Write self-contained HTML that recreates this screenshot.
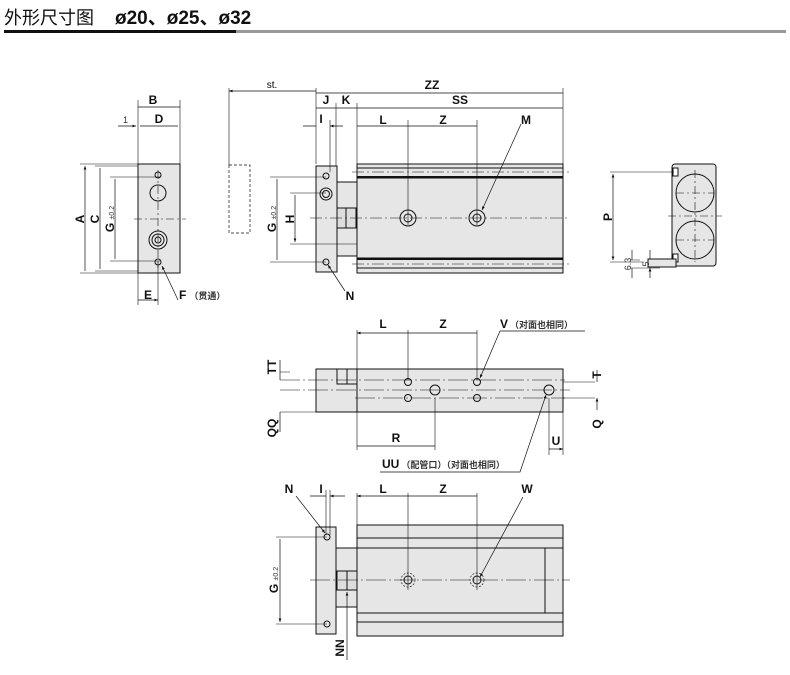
<!DOCTYPE html><html><head><meta charset="utf-8"><style>
body{margin:0;background:#fff}
svg text{font-family:"Liberation Sans","Noto Sans CJK SC",sans-serif}
.b{font-weight:bold;font-size:12px;fill:#111}
.s{font-size:9px;fill:#333}
</style></head><body>
<svg width="790" height="670" viewBox="0 0 790 670" xmlns="http://www.w3.org/2000/svg">
<defs><marker id="a" viewBox="0 0 10 10" refX="10" refY="5" markerWidth="6" markerHeight="5" orient="auto-start-reverse"><path d="M0,1L10,5L0,9z" fill="#111"/></marker></defs>
<text x="4" y="24" style="font-size:18px" fill="#111">外形尺寸图<tspan x="115" style="font-weight:bold;font-size:19px">ø20、ø25、ø32</tspan></text>
<rect x="4" y="30" width="232" height="3" fill="#111"/><rect x="236" y="30" width="550" height="3" fill="#999"/>
<g stroke="#111" stroke-width="1" fill="none">
<!-- end view -->
<rect x="138" y="164" width="42" height="109" fill="#e6e6e6"/>
<circle cx="158" cy="175" r="3"/><circle cx="158" cy="193" r="8"/><circle cx="158" cy="240" r="9"/><circle cx="158" cy="240" r="6"/><circle cx="158" cy="240" r="3"/><circle cx="158" cy="262" r="3"/>
<path d="M134 219H186M158 170V268" stroke-dasharray="8 3 2 3" stroke-width=".6"/>
<path d="M80 164H138M95 166H138M110 177H160M110 261H160M80 273H138M95 271H138M138 100V164M180 100V164M138 273V305M158 262V305" stroke-width=".6"/>
<path d="M85 166V271M100 168V269M115 179V259M138 107H180M140 126H178M138 300H158" marker-start="url(#a)" marker-end="url(#a)" stroke-width=".7"/>
<path d="M118 126H136" marker-end="url(#a)" stroke-width=".7"/>
<path d="M178 300L162 266" marker-end="url(#a)" stroke-width=".7"/>
<!-- dashed -->
<path d="M229 165H250V233H229Z" stroke-dasharray="3 2" stroke-width=".7"/>
<!-- side view -->
<rect x="336" y="182" width="21" height="74" fill="#e6e6e6"/>
<rect x="337" y="208" width="19" height="20" fill="#ddd"/><path d="M346 208V228"/>
<rect x="357" y="164" width="206" height="109" fill="#e6e6e6"/>
<path d="M357 168H563M357 178H563M357 258H563M357 268H563" />
<path d="M357 177H563M357 259H563" stroke-width="2"/>
<rect x="316" y="166" width="21" height="106" fill="#e6e6e6"/>
<circle cx="326" cy="176" r="3"/><circle cx="326" cy="194" r="6"/><circle cx="326" cy="194" r="3.5"/><circle cx="326" cy="262" r="3"/>
<circle cx="408" cy="218" r="8" fill="#e6e6e6"/><circle cx="408" cy="218" r="4"/><circle cx="477" cy="218" r="8" fill="#e6e6e6"/><circle cx="477" cy="218" r="4"/>
<path d="M310 218H570M352 172H570M352 264H570" stroke-dasharray="12 3 2 3" stroke-width=".6"/>
<path d="M229 88V165M316 88V164M336 103V166M357 103V164M563 88V164M408 120V225M477 120V225M330 120V172M270 177H326M270 262H326M290 193H326M290 244H357" stroke-width=".6"/>
<path d="M229 91H316M316 93H563M357 108H563M316 108H336M336 108H357M357 126H408M408 126H477M277 179V260M295 195V242" marker-start="url(#a)" marker-end="url(#a)" stroke-width=".7"/>
<path d="M303 126H316M343 126H330" marker-end="url(#a)" stroke-width=".7"/>
<path d="M521 124L482 210" marker-end="url(#a)" stroke-width=".7"/>
<path d="M345 291L328 265" marker-end="url(#a)" stroke-width=".7"/>
<!-- right view -->
<rect x="672" y="164" width="44" height="102" rx="3" fill="#e6e6e6"/>
<rect x="673" y="168" width="5" height="8" fill="#fff"/><rect x="673" y="254" width="5" height="8" fill="#fff"/>
<circle cx="695" cy="193" r="19"/><circle cx="695" cy="240" r="19"/>
<path d="M668 216H722M695 170V262M676 193H714M676 240H714" stroke-dasharray="8 3 2 3" stroke-width=".6"/>
<rect x="648" y="259" width="28" height="8" fill="#e6e6e6"/>
<path d="M610 172H674M610 262H644M630 260H640M630 268H660" stroke-width=".6"/>
<path d="M613 174V260" marker-start="url(#a)" marker-end="url(#a)" stroke-width=".7"/>
<path d="M632 250V260M632 278V268M650 250V259M650 278V268" marker-end="url(#a)" stroke-width=".7"/>
<!-- top view -->
<rect x="316" y="369" width="41" height="43" fill="#e6e6e6"/>
<rect x="337" y="369" width="20" height="15" fill="#e6e6e6"/><path d="M347 369V384"/>
<rect x="357" y="369" width="206" height="43" fill="#e6e6e6"/>
<circle cx="408" cy="382" r="3.5"/><circle cx="477" cy="382" r="3.5"/><circle cx="408" cy="398" r="3.5"/><circle cx="477" cy="398" r="3.5"/><circle cx="435" cy="390" r="5"/><circle cx="549" cy="390" r="5"/>
<path d="M280 380H565M280 390H570M355 398H565" stroke-dasharray="20 3 2 3" stroke-width=".6"/>
<path d="M280 412H357M280 372H290M595 382H563M595 398H563M408 330V380M477 330V380M357 330V450M435 398V450M549 398V455M563 412V455" stroke-width=".6"/>
<path d="M357 333H408M408 333H477M357 446H435M549 449H563" marker-start="url(#a)" marker-end="url(#a)" stroke-width=".7"/>
<path d="M280 360V380M280 432V412M597 370V382M597 410V398" marker-end="url(#a)" stroke-width=".7"/>
<path d="M585 331H500L480 378" marker-end="url(#a)" stroke-width=".7"/>
<path d="M380 472H520L546 395" marker-end="url(#a)" stroke-width=".7"/>
<!-- bottom view -->
<rect x="336" y="548" width="21" height="59" fill="#e6e6e6"/>
<rect x="337" y="571" width="20" height="19" fill="#ddd"/><path d="M347 571V590"/>
<rect x="357" y="525" width="206" height="111" fill="#e6e6e6"/>
<path d="M357 538H563M357 548H563M357 613H563M357 622H563M545 548V613"/>
<rect x="316" y="527" width="20" height="107" fill="#e6e6e6"/>
<circle cx="327" cy="537" r="3"/><circle cx="327" cy="624" r="3"/>
<circle cx="408" cy="580" r="7" stroke-dasharray="2 1.5" stroke-width=".7"/><circle cx="408" cy="580" r="4"/>
<circle cx="477" cy="580" r="7" stroke-dasharray="2 1.5" stroke-width=".7"/><circle cx="477" cy="580" r="4"/>
<path d="M310 580H570" stroke-dasharray="20 3 2 3" stroke-width=".6"/>
<path d="M326 490V535M330 490V535M357 493V525M408 493V590M477 493V590M276 537H327M276 624H327" stroke-width=".6"/>
<path d="M357 496H408M408 496H477M280 539V622" marker-start="url(#a)" marker-end="url(#a)" stroke-width=".7"/>
<path d="M310 496H326M345 496H330" marker-end="url(#a)" stroke-width=".7"/>
<path d="M296 496L325 533" marker-end="url(#a)" stroke-width=".7"/>
<path d="M523 497L480 577" marker-end="url(#a)" stroke-width=".7"/>
<path d="M347 660V592" marker-end="url(#a)" stroke-width=".7"/>
</g>
<text class="b" x="153" y="104" text-anchor="middle">B</text>
<text class="b" x="159" y="123" text-anchor="middle">D</text>
<text class="s" x="123" y="123">1</text>
<text class="b" transform="translate(84,219) rotate(-90)" text-anchor="middle">A</text>
<text class="b" transform="translate(99,219) rotate(-90)" text-anchor="middle">C</text>
<text class="b" transform="translate(114,219) rotate(-90)" text-anchor="middle">G <tspan class="s" style="font-weight:normal;font-size:7px">±0.2</tspan></text>
<text class="b" x="144" y="299">E</text>
<text class="b" x="179" y="299">F<tspan class="s" dx="3">（贯通）</tspan></text>
<text x="272" y="88" style="font-size:10px" text-anchor="middle">st.</text>
<text class="b" x="432" y="89" text-anchor="middle">ZZ</text>
<text class="b" x="460" y="104" text-anchor="middle">SS</text>
<text class="b" x="326" y="104" text-anchor="middle">J</text>
<text class="b" x="346" y="104" text-anchor="middle">K</text>
<text class="b" x="321" y="123" text-anchor="middle">I</text>
<text class="b" x="383" y="124" text-anchor="middle">L</text>
<text class="b" x="443" y="124" text-anchor="middle">Z</text>
<text class="b" x="526" y="124" text-anchor="middle">M</text>
<text class="b" transform="translate(276,219) rotate(-90)" text-anchor="middle">G <tspan class="s" style="font-weight:normal;font-size:7px">±0.2</tspan></text>
<text class="b" transform="translate(294,219) rotate(-90)" text-anchor="middle">H</text>
<text class="b" x="350" y="300" text-anchor="middle">N</text>
<text class="b" transform="translate(612,217) rotate(-90)" text-anchor="middle">P</text>
<text class="s" transform="translate(631,264) rotate(-90)" text-anchor="middle">6.3</text>
<text class="s" transform="translate(649,264) rotate(-90)" text-anchor="middle">5</text>
<text class="b" x="383" y="328" text-anchor="middle">L</text>
<text class="b" x="443" y="328" text-anchor="middle">Z</text>
<text class="b" x="500" y="328">V<tspan class="s" dx="2">（对面也相同）</tspan></text>
<text class="b" transform="translate(276,367) rotate(-90)" text-anchor="middle">TT</text>
<text class="b" transform="translate(276,428) rotate(-90)" text-anchor="middle">QQ</text>
<text class="b" transform="translate(601,375) rotate(-90)" text-anchor="middle">T</text>
<text class="b" transform="translate(601,424) rotate(-90)" text-anchor="middle">Q</text>
<text class="b" x="396" y="442" text-anchor="middle">R</text>
<text class="b" x="556" y="445" text-anchor="middle">U</text>
<text class="b" x="382" y="468">UU<tspan class="s" dx="2">（配管口）（对面也相同）</tspan></text>
<text class="b" x="289" y="493" text-anchor="middle">N</text>
<text class="b" x="321" y="493" text-anchor="middle">I</text>
<text class="b" x="383" y="493" text-anchor="middle">L</text>
<text class="b" x="443" y="493" text-anchor="middle">Z</text>
<text class="b" x="527" y="493" text-anchor="middle">W</text>
<text class="b" transform="translate(278,580) rotate(-90)" text-anchor="middle">G <tspan class="s" style="font-weight:normal;font-size:7px">±0.2</tspan></text>
<text class="b" transform="translate(344,648) rotate(-90)" text-anchor="middle">NN</text>
</svg>
</body></html>
